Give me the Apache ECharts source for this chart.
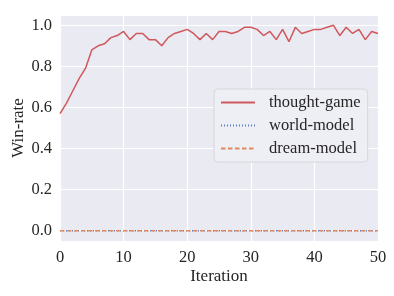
<!DOCTYPE html>
<html><head><meta charset="utf-8">
<script src="https://cdn.jsdelivr.net/npm/echarts@6/dist/echarts.min.js"></script>
<style>html,body{margin:0;padding:0;background:#fff}#c{width:394px;height:296px}</style>
</head><body><div id="c"></div>
<script>
var iterations = [];
for (var i = 0; i <= 50; i++) iterations.push(i);
var thoughtGame = [0.57,0.62,0.68,0.74,0.79,0.88,0.90,0.91,0.94,0.95,
  0.97,0.93,0.96,0.96,0.93,0.93,0.90,0.94,0.96,0.97,
  0.98,0.96,0.93,0.96,0.93,0.97,0.97,0.96,0.97,0.99,
  0.99,0.98,0.95,0.97,0.93,0.98,0.92,0.99,0.96,0.97,
  0.98,0.98,0.99,1.00,0.95,0.99,0.96,0.98,0.93,0.97,0.96];
var worldModel = [0,0,0,0,0,0,0,0,0,0,0,0,0,0,0,0,0,0,0,0,0,0,0,0,0,0,0,0,0,0,0,0,0,0,0,0,0,0,0,0,0,0,0,0,0,0,0,0,0,0,0];
var dreamModel = [0,0,0,0,0,0,0,0,0,0,0,0,0,0,0,0,0,0,0,0,0,0,0,0,0,0,0,0,0,0,0,0,0,0,0,0,0,0,0,0,0,0,0,0,0,0,0,0,0,0,0];
var seriesNames = ['thought-game','world-model','dream-model'];

function pairs(ys){ return iterations.map(function(x,i){ return [x, ys[i]]; }); }
var font = 'Liberation Serif';
var chart = echarts.init(document.getElementById('c'), null, {renderer:'canvas'});
chart.setOption({
  animation:false,
  backgroundColor:'#fff',
  textStyle:{fontFamily:font},
  grid:{left:60,right:16,top:15,bottom:55,show:true,backgroundColor:'#EAEAF2',borderWidth:0,
    containLabel:false,outerBoundsMode:'none'},
  xAxis:{type:'value',min:0,max:50,interval:10,
    name:'Iteration',nameLocation:'middle',nameGap:27,nameMoveOverlap:false,
    nameTextStyle:{fontFamily:font,fontSize:17,color:'#262626'},
    axisLine:{show:false},axisTick:{show:false},
    axisLabel:{fontFamily:font,fontSize:16.5,color:'#262626',margin:8},
    splitLine:{show:true,lineStyle:{color:'#fff',width:1.2}}},
  yAxis:{type:'value',min:-0.05,max:1.05,splitNumber:5,
    name:'Win-rate',nameLocation:'middle',nameGap:33,nameMoveOverlap:false,
    nameTextStyle:{fontFamily:font,fontSize:17,color:'#262626'},
    axisLine:{show:false},axisTick:{show:false},
    axisLabel:{fontFamily:font,fontSize:16.5,color:'#262626',margin:8,showMinLabel:false,showMaxLabel:false,
      formatter:function(v){return v.toFixed(1);}},
    splitLine:{show:true,lineStyle:{color:'#fff',width:1.2}}},
  legend:{data:seriesNames,orient:'vertical',left:214,top:89,
    backgroundColor:'rgba(238,238,244,0.95)',borderColor:'#d6d6dc',borderWidth:1,borderRadius:4,
    padding:[5,7,5,6],itemGap:6,itemWidth:34,itemHeight:18,
    itemStyle:{opacity:0},
    textStyle:{fontFamily:font,fontSize:16.5,color:'#262626',padding:[0,0,0,9]}},
  series:[
    {name:seriesNames[0],type:'line',data:pairs(thoughtGame),symbol:'none',
      lineStyle:{color:'#D0585C',width:1.5},itemStyle:{color:'#D0585C'},z:3},
    {name:seriesNames[1],type:'line',data:pairs(worldModel),symbol:'none',
      lineStyle:{color:'#5A7FC2',width:1.5,type:[1,2]},itemStyle:{color:'#5A7FC2'},z:2},
    {name:seriesNames[2],type:'line',data:pairs(dreamModel),symbol:'none',
      lineStyle:{color:'#E0895E',width:1.5,type:[4.5,2.5]},itemStyle:{color:'#E0895E'},z:4}
  ]
});
</script></body></html>
